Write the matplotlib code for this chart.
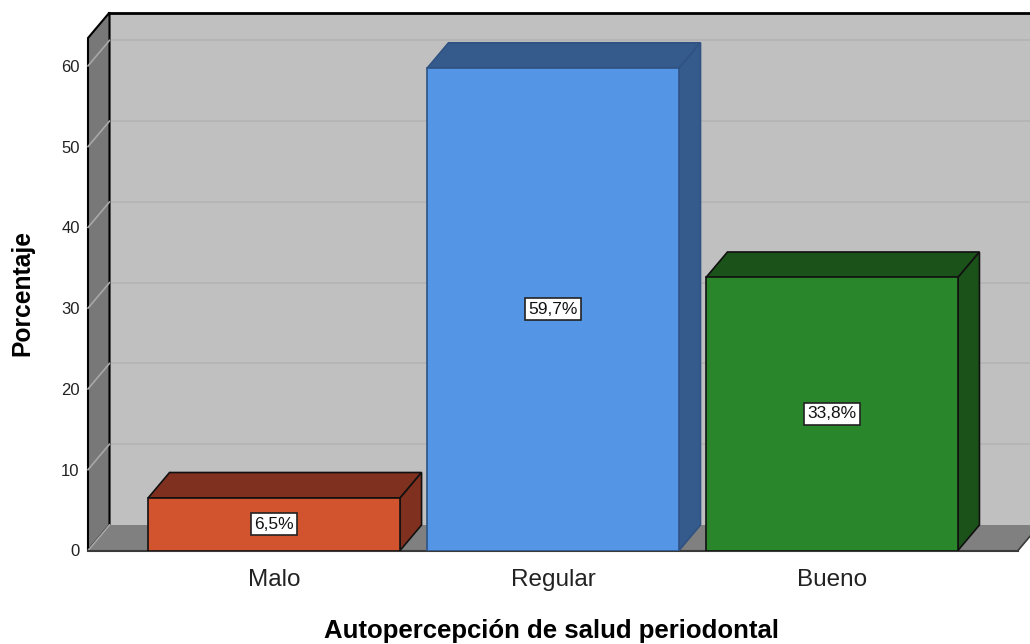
import matplotlib
matplotlib.use("Agg")
import matplotlib.pyplot as plt
from matplotlib.patches import Polygon

plt.rcParams['font.family'] = ['Liberation Sans', 'DejaVu Sans']

categories = ["Malo", "Regular", "Bueno"]
values = [6.5, 59.7, 33.8]
value_labels = ["6,5%", "59,7%", "33,8%"]
yticks = [0, 10, 20, 30, 40, 50, 60]
front_colors = ["#d1542f", "#5496e5", "#29862b"]
side_colors = ["#80301e", "#345b8c", "#1b5219"]
edge_colors = ["#111111", "#2f5282", "#111111"]

W, H = 1030, 644
fig = plt.figure(figsize=(W / 100, H / 100), dpi=100)
fig.patch.set_facecolor("white")

x0_px, x1_px = 88, 1018
y0_px, ytop_px = 550.5, 38
ax = fig.add_axes([x0_px / W, (H - y0_px) / H, (x1_px - x0_px) / W, (y0_px - ytop_px) / H])
x0, x1 = -0.667, 2.667
ytop = 63.45
ax.set_xlim(x0, x1)
ax.set_ylim(0, ytop)
ax.set_facecolor("none")
for s in ax.spines.values():
    s.set_visible(False)

px_x = (x1_px - x0_px) / (x1 - x0)
px_y = (y0_px - ytop_px) / ytop
DX = 21.5 / px_x
DY = 25.5 / px_y
XR = x1 + 0.2  # back wall continues beyond the picture

# back wall
ax.add_patch(Polygon([(x0 + DX, DY), (XR, DY), (XR, ytop + DY), (x0 + DX, ytop + DY)],
                     closed=True, facecolor="#c0c0c0", edgecolor="none", clip_on=False, zorder=1))
for v in yticks[1:]:
    ax.plot([x0 + DX, XR], [v + DY, v + DY], color="#b4b4b4", lw=1.3, clip_on=False, zorder=1.5)
ax.plot([x0 + DX, XR], [ytop + DY, ytop + DY], color="black", lw=2, clip_on=False, zorder=2)
ax.plot([x0 + DX, x0 + DX], [DY, ytop + DY], color="black", lw=1.5, clip_on=False, zorder=2)

# left side wall
ax.add_patch(Polygon([(x0, 0), (x0 + DX, DY), (x0 + DX, ytop + DY), (x0, ytop)],
                     closed=True, facecolor="#787878", edgecolor="black", lw=1.5,
                     clip_on=False, zorder=2))
for v in yticks:
    ax.plot([x0, x0 + DX], [v, v + DY], color="#a8a8a8", lw=1.2, clip_on=False, zorder=2.5)

# floor
ax.add_patch(Polygon([(x0, 0), (x1, 0), (x1 + DX, DY), (x0 + DX, DY)],
                     closed=True, facecolor="#808080", edgecolor="none", clip_on=False, zorder=2))
ax.plot([x0, x1], [0, 0], color="#3a3a3a", lw=1.5, clip_on=False, zorder=2.6)
ax.plot([x1, x1 + DX], [0, DY], color="#3a3a3a", lw=1.2, clip_on=False, zorder=2.6)

# bars
bw = 252 / px_x
xs = list(range(len(categories)))
ax.bar(xs, values, width=bw, color=front_colors, edgecolor=edge_colors, linewidth=1.2, zorder=5)
for i, v in enumerate(values):
    l, r = i - bw / 2, i + bw / 2
    ax.add_patch(Polygon([(l, v), (r, v), (r + DX, v + DY), (l + DX, v + DY)], closed=True,
                         facecolor=side_colors[i], edgecolor=edge_colors[i], lw=1.2,
                         clip_on=False, zorder=4))
    ax.add_patch(Polygon([(r, 0), (r + DX, DY), (r + DX, v + DY), (r, v)], closed=True,
                         facecolor=side_colors[i], edgecolor=edge_colors[i], lw=1.2,
                         clip_on=False, zorder=4))
    ax.text(i, v / 2, value_labels[i], ha="center", va="center", fontsize=12.5, color="#111111",
            zorder=6, bbox=dict(boxstyle="square,pad=0.2", facecolor="white",
                                edgecolor="#222222", lw=1.2))

ax.set_yticks(yticks)
ax.set_yticklabels([str(t) for t in yticks], fontsize=12, color="#222222")
ax.set_xticks(xs)
ax.set_xticklabels(categories, fontsize=17.5, color="#222222")
ax.tick_params(axis="y", length=0, pad=6)
ax.tick_params(axis="x", length=0, pad=13)

ax.set_xlabel("Autopercepción de salud periodontal", fontsize=18.5, fontweight="bold")
ax.xaxis.label.set_va("baseline")
ax.xaxis.set_label_coords((552 - x0_px) / (x1_px - x0_px), (y0_px - 638) / (y0_px - ytop_px))
ax.set_ylabel("Porcentaje", fontsize=17.7, fontweight="bold")
ax.yaxis.label.set_va("center")
ax.yaxis.set_label_coords((22 - x0_px) / (x1_px - x0_px), (y0_px - 293) / (y0_px - ytop_px))

fig.savefig("out.png", dpi=100, facecolor="white")
